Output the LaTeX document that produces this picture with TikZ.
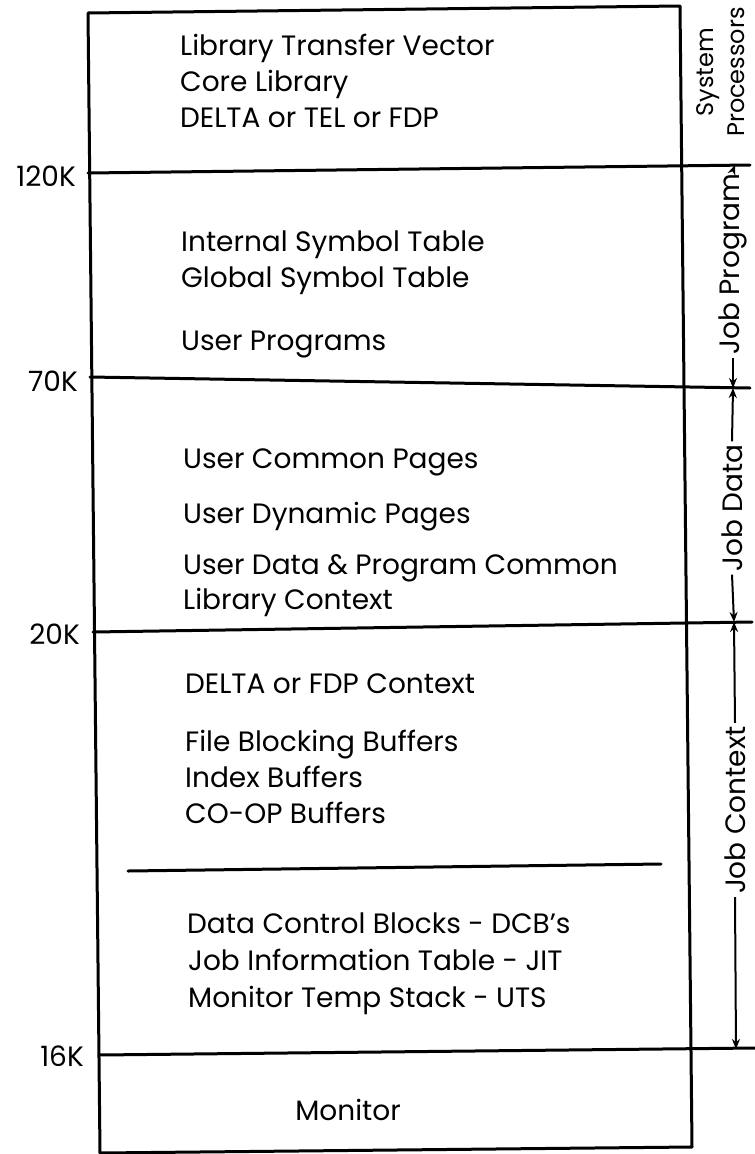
\documentclass[tikz,border=0pt]{standalone}
\usepackage{fontspec}
\setmainfont{Poppins}
\usetikzlibrary{arrows.meta}
\begin{document}
\begin{tikzpicture}[x=1pt,y=-1pt,
  rule/.style={line width=3pt,line cap=round},
  txt/.style={anchor=base west,inner sep=0pt,font=\fontsize{28}{32}\selectfont},
  lbl/.style={anchor=east,inner sep=0pt,font=\fontsize{28}{32}\selectfont},
  side/.style={rotate=90,inner sep=3pt,font=\fontsize{28}{32}\selectfont},
  dim/.style={line width=2pt,-{Stealth[length=10pt,width=8pt]}}]
\useasboundingbox (0,0) rectangle (755,1154);
% box corners
\coordinate (tl) at (88,13);
\coordinate (tr) at (680,6);
\coordinate (br) at (692,1147);
\coordinate (bl) at (100,1153);
\draw[rule,line join=round] (tl) -- (tr) -- (br) -- (bl) -- cycle;
% level lines
\coordinate (l120a) at (88,173);  \coordinate (l120b) at (750,165);
\coordinate (l70a)  at (90,377);  \coordinate (l70b)  at (750,388);
\coordinate (l20a)  at (93,632);  \coordinate (l20b)  at (752,622);
\coordinate (l16a)  at (99,1055); \coordinate (l16b)  at (755,1048);
\coordinate (ina) at (128,871);   \coordinate (inb) at (661,864);
\draw[rule] (l120a) -- (l120b);
\draw[rule] (l70a) -- (l70b);
\draw[rule] (l20a) -- (l20b);
\draw[rule] (l16a) -- (l16b);
\draw[rule] (ina) -- (inb);
% level labels
\node[lbl] (k120) at (76,176) {120K};
\node[lbl] (k70)  at (78,381) {70K};
\node[lbl] (k20)  at (80,634) {20K};
\node[lbl] (k16)  at (84,1056) {16K};
% section texts
\node[txt] (t1) at (180,55)  {Library Transfer Vector};
\node[txt] (t2) at (180,91)  {Core Library};
\node[txt] (t3) at (180,127) {DELTA or TEL or FDP};
\node[txt] (t4) at (181,251) {Internal Symbol Table};
\node[txt] (t5) at (181,287) {Global Symbol Table};
\node[txt] (t6) at (181,350) {User Programs};
\node[txt] (t7) at (183,468) {User Common Pages};
\node[txt] (t8) at (183,523) {User Dynamic Pages};
\node[txt] (t9) at (183,574) {User Data \& Program Common};
\node[txt] (t10) at (183,609) {Library Context};
\node[txt] (t11) at (185,693) {DELTA or FDP Context};
\node[txt] (t12) at (185,751) {File Blocking Buffers};
\node[txt] (t13) at (185,787) {Index Buffers};
\node[txt] (t14) at (185,823) {CO-OP Buffers};
\node[txt] (t15) at (187,933) {Data Control Blocks - DCB\char"27 s};
\node[txt] (t16) at (188,970) {Job Information Table - JIT};
\node[txt] (t17) at (188,1007) {Monitor Temp Stack - UTS};
\node[anchor=base,inner sep=0pt,font=\fontsize{28}{32}\selectfont] (mon) at (348,1120) {Monitor};
% side annotations
\node[side,align=center,font=\fontsize{24}{31}\selectfont] (sp) at (721,72) {System\\Processors};
\node[side] (jp) at (733,264) {Job Program};
\node[side] (jd) at (732,508) {Job Data};
\node[side] (jc) at (735,810) {Job Context};
\coordinate (c120) at (735,165);
\coordinate (c70)  at (733,388);
\coordinate (c20)  at (734,622);
\coordinate (c16)  at (736,1049);
\draw[dim] (jp.east) -- (c120);
\draw[dim] (jp.west) -- (c70);
\draw[dim] (jd.east) -- (c70);
\draw[dim] (jd.west) -- (c20);
\draw[dim] (jc.east) -- (c20);
\draw[dim] (jc.west) -- (c16);
\end{tikzpicture}
\end{document}
